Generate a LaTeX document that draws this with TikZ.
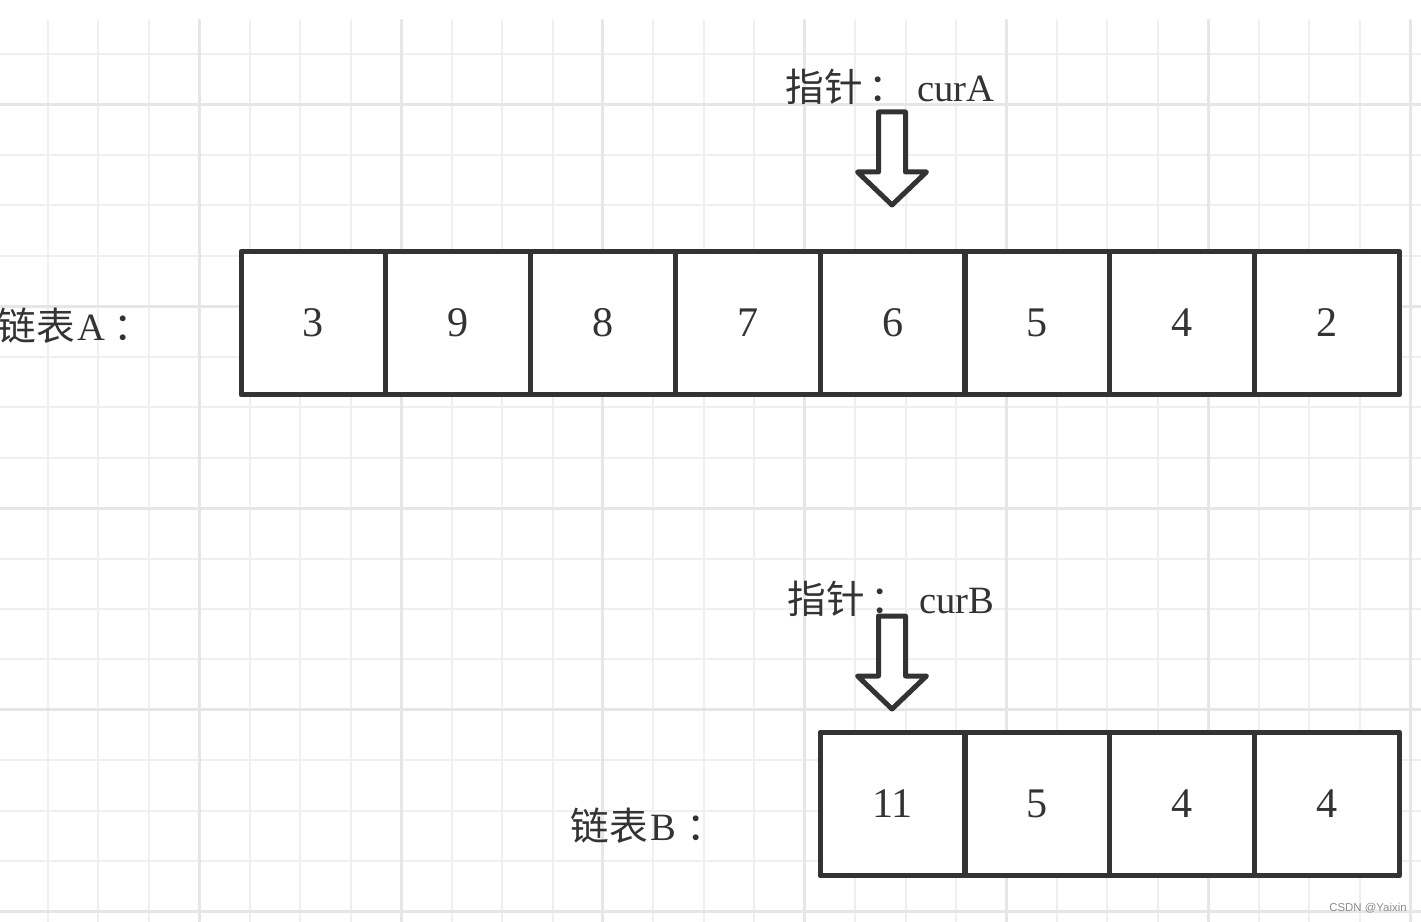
\documentclass[tikz,border=0pt]{standalone}
\usepackage{fontspec}
\setmainfont{Liberation Serif}
\setsansfont{Liberation Sans}
\newfontfamily\cjk{Noto Sans CJK SC}
\usepackage{tikz}
\usetikzlibrary{positioning}
\definecolor{llInk}{HTML}{333333}
\definecolor{llGrid}{HTML}{EFEFEF}
\definecolor{llGridMajor}{HTML}{E6E6E6}
\definecolor{llMark}{HTML}{8C8C8C}
\tikzset{
  ll diagram/.style={x=0.02cm, y=-0.02cm, text=llInk,
    line cap=round, line join=round},
  ll grid/.style={draw=llGrid, line width=0.04cm},
  ll grid major/.style={draw=llGridMajor, line width=0.06cm},
  ll cell/.style={draw=llInk, fill=white, line width=0.1cm,
    minimum width=2.896cm, minimum height=2.88cm, inner sep=0pt,
    font=\fontsize{24}{24}\selectfont},
  ll label/.style={anchor=west, inner sep=0pt,
    font=\fontsize{22}{22}\selectfont},
  ll pointer/.style={draw=llInk, fill=white, line width=0.1cm},
  ll mark/.style={anchor=east, inner sep=0pt, text=llMark,
    font=\sffamily\fontsize{6.5}{6.5}\selectfont},
  pics/down pointer/.style={code={
    \draw[ll pointer] (-13.5,0) -- (13.5,0) -- (13.5,60) -- (34.5,60)
      -- (0,93) -- (-34.5,60) -- (-13.5,60) -- cycle;}}
}

\begin{document}
\begin{tikzpicture}[ll diagram]
\useasboundingbox (0,0) rectangle (1421,922);
% background grid
\begin{scope}
\clip (0,20) rectangle (1421,922);
\foreach \gx in {-2.45,48,...,1420} \draw[ll grid] (\gx,20) -- (\gx,922);
\foreach \gy in {54,104.45,...,922} \draw[ll grid] (0,\gy) -- (1421,\gy);
\foreach \gx in {199.35,401.15,...,1420} \draw[ll grid major] (\gx,20) -- (\gx,922);
\foreach \gy in {104.45,306.25,...,922} \draw[ll grid major] (0,\gy) -- (1421,\gy);
\end{scope}
% list A
\node[ll label] (labelA) at (-3,326) {{\cjk 链表}\kern0.06cm A\kern0.16cm{\cjk ：}};
\node[ll cell] (a1) at (313.4,323) {3};
\node[ll cell] (a2) at (458.2,323) {9};
\node[ll cell] (a3) at (603,323) {8};
\node[ll cell] (a4) at (747.8,323) {7};
\node[ll cell] (a5) at (892.6,323) {6};
\node[ll cell] (a6) at (1037.4,323) {5};
\node[ll cell] (a7) at (1182.2,323) {4};
\node[ll cell] (a8) at (1327,323) {2};
% list B
\node[ll label] (labelB) at (570,826) {{\cjk 链表}\kern0.06cm B\kern0.2cm{\cjk ：}};
\node[ll cell] (b1) at (892.6,804) {11};
\node[ll cell] (b2) at (1037.4,804) {5};
\node[ll cell] (b3) at (1182.2,804) {4};
\node[ll cell] (b4) at (1327,804) {4};
% pointers
\node[ll label] (ptrA) at (785,87) {{\cjk 指针}\kern0.12cm{\cjk ：}\kern0.2cm curA};
\pic (arrowA) at (892,112) {down pointer};
\node[ll label] (ptrB) at (787,599) {{\cjk 指针}\kern0.12cm{\cjk ：}\kern0.2cm curB};
\pic (arrowB) at (892,616) {down pointer};
\node[ll mark] (mark) at (1407,908) {CSDN @Yaixin};
\end{tikzpicture}
\end{document}
